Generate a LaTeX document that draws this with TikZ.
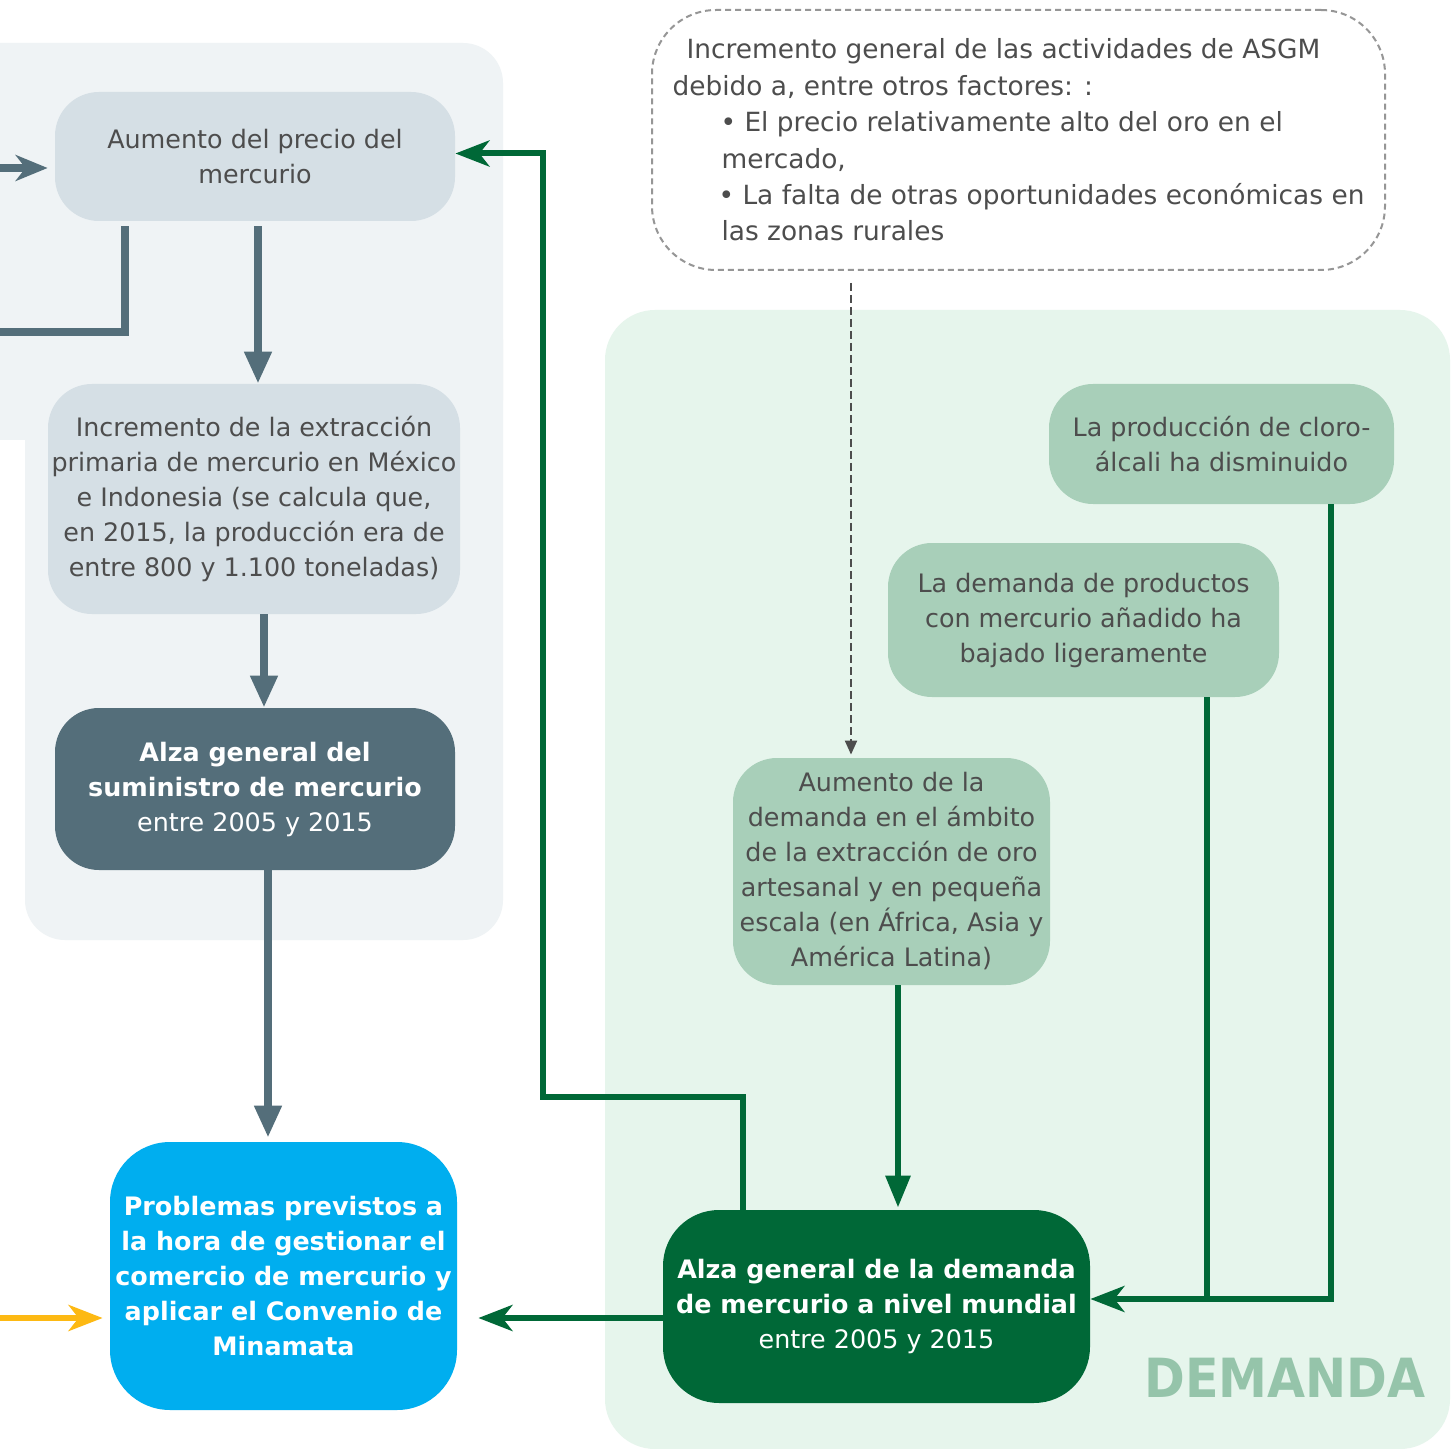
\documentclass[tikz,border=0pt]{standalone}
\usepackage{fontspec}
\setmainfont{DejaVu Sans}
\newfontfamily\demfont[FakeStretch=0.91]{DejaVu Sans}
\usetikzlibrary{arrows.meta}
\definecolor{supbg}{RGB}{239,243,245}
\definecolor{supfill}{RGB}{213,223,229}
\definecolor{slate}{RGB}{84,110,122}
\definecolor{probblue}{RGB}{0,174,239}
\definecolor{dembg}{RGB}{230,245,236}
\definecolor{demlight}{RGB}{168,207,185}
\definecolor{demlabel}{RGB}{149,196,170}
\definecolor{demdark}{RGB}{0,104,55}
\definecolor{yel}{RGB}{253,185,19}
\definecolor{txtgray}{RGB}{77,77,77}
\definecolor{dashgray}{RGB}{150,150,150}
\begin{document}
\begin{tikzpicture}[x=0.5pt,y=0.5pt,yscale=-1,xscale=1,
  boxbase/.style={rounded corners=22pt,inner sep=0pt,align=center,font=\fontsize{12.7}{17.5}\selectfont},
  supbox/.style={boxbase,fill=supfill,text=txtgray},
  supdark/.style={boxbase,fill=slate,text=white},
  probbox/.style={boxbase,rounded corners=30pt,fill=probblue,text=white},
  dembox/.style={boxbase,fill=demlight,text=txtgray},
  demdarkbox/.style={boxbase,rounded corners=28pt,fill=demdark,text=white},
  slateline/.style={draw=slate,line width=3.8pt},
  slatearr/.style={slateline,-{Triangle[length=16pt,width=13pt]}},
  slatestealth/.style={slateline,-{Stealth[length=16pt,width=13pt,inset=5pt]}},
  greenline/.style={draw=demdark,line width=3pt},
  greenarr/.style={greenline,-{Stealth[length=17pt,width=13pt,inset=5pt]}},
  greentri/.style={greenline,-{Triangle[length=16pt,width=12pt]}},
  yelarr/.style={draw=yel,line width=3pt,-{Stealth[length=17pt,width=13pt,inset=5pt]}},
  dasharr/.style={draw=txtgray,line width=1pt,dash pattern=on 4pt off 2pt,-{Triangle[length=7pt,width=6pt]}}]
\useasboundingbox (0,0) rectangle (1451,1449);
\fill [white] (0,0) rectangle (1451,1449);

%Shape: Panels
\fill [supbg,rounded corners=20pt] (-40,43) rectangle (503,440);
\fill [supbg,rounded corners=20pt] (25,300) rectangle (503,940);
\fill [dembg,rounded corners=25pt] (605,310) rectangle (1450,1449);

% Text Node
\draw (255,156.5) node [supbox,minimum width=200pt,minimum height=64.5pt] (precio) {Aumento del precio del\\mercurio};
% Text Node
\draw (254,499) node [supbox,minimum width=206pt,minimum height=115pt] (extrac) {Incremento de la extracción\\primaria de mercurio en México\\e Indonesia (se calcula que,\\en 2015, la producción era de\\entre 800 y 1.100 toneladas)};
% Text Node
\draw (255,789) node [supdark,minimum width=200pt,minimum height=81pt] (sumin) {\textbf{Alza general del}\\\textbf{suministro de mercurio}\\entre 2005 y 2015};
% Text Node
\draw (283.5,1276) node [probbox,minimum width=173.5pt,minimum height=134pt,font=\bfseries\fontsize{12.7}{17.5}\selectfont] (probl) {Problemas previstos a\\la hora de gestionar el\\comercio de mercurio y\\aplicar el Convenio de\\Minamata};
% Text Node
\draw (1018.5,140) node [draw=dashgray,line width=1pt,dash pattern=on 3pt off 2pt,rounded corners=32pt,inner sep=0pt,minimum width=366.5pt,minimum height=130pt,align=left,text=txtgray,font=\fontsize{13.2}{18.2}\selectfont] (asgm) {\hspace*{7pt}Incremento general de las actividades de ASGM\\debido a, entre otros factores: :\\\hspace*{24pt}\textbullet{} El precio relativamente alto del oro en el\\\hspace*{24.5pt}mercado,\\\hspace*{23pt}\textbullet{} La falta de otras oportunidades económicas en\\\hspace*{24.5pt}las zonas rurales};
% Text Node
\draw (1221.5,444) node [dembox,minimum width=172.5pt,minimum height=60pt] (cloro) {La producción de cloro-\\álcali ha disminuido};
% Text Node
\draw (1083.5,620) node [dembox,minimum width=195.5pt,minimum height=77pt] (produc) {La demanda de productos\\con mercurio añadido ha\\bajado ligeramente};
% Text Node
\draw (891.5,871.5) node [dembox,minimum width=158.5pt,minimum height=113.5pt] (ambito) {Aumento de la\\demanda en el ámbito\\de la extracción de oro\\artesanal y en pequeña\\escala (en África, Asia y\\América Latina)};
% Text Node
\draw (876.5,1306.5) node [demdarkbox,minimum width=213.5pt,minimum height=96.5pt] (demanda) {\textbf{Alza general de la demanda}\\\textbf{de mercurio a nivel mundial}\\entre 2005 y 2015};
% Text Node
\draw (1285,1378) node [text=demlabel,font=\demfont\bfseries\fontsize{27}{27}\selectfont] (demlabel) {DEMANDA};

%Coordinates
\coordinate (srcL) at (0,168);
\coordinate (outL) at (0,332);
\coordinate (srcY) at (0,1318);
\coordinate (prodout) at ([xshift=61.75pt]produc.south);
\coordinate (demin) at ([yshift=-3.75pt]demanda.east);

%Straight Lines
\draw [slatestealth,shorten >=3.5pt] (srcL) -- (srcL -| precio.west);
\draw [slateline,shorten <=2.5pt] ([xshift=-65pt]precio.south) |- (outL);
\draw [slatearr,shorten <=2.5pt] ([xshift=1.5pt]precio.south) -- ([xshift=1.5pt]precio.south |- extrac.north);
\draw [slatearr] ([xshift=5pt]extrac.south) -- ([xshift=5pt]extrac.south |- sumin.north);
\draw [slatearr,shorten >=2pt] ([xshift=6.5pt]sumin.south) -- ([xshift=6.5pt]sumin.south |- probl.north);

%Straight Lines
\draw [greenarr] ([xshift=-66.75pt]demanda.north) -- ++(0,-113) -- ++(-200,0) |- ([yshift=-1.5pt]precio.east);
\draw [greentri,shorten >=1pt] ([xshift=3.25pt]ambito.south) -- ([xshift=3.25pt]ambito.south |- demanda.north);
\draw [greenarr,shorten >=10.5pt] ([yshift=5.75pt]demanda.west) -- ([yshift=5.75pt]demanda.west -| probl.east);
\draw [greenarr] ([xshift=54.75pt]cloro.south) |- (demin);
\draw [greenline] (prodout) -- (prodout |- demin);

%Straight Lines
\draw [dasharr,shorten <=6pt,shorten >=1.5pt] ([xshift=-83.75pt]asgm.south) -- ([xshift=-83.75pt]asgm.south |- ambito.north);
\draw [yelarr,shorten >=3.5pt] (srcY) -- (srcY -| probl.west);

\end{tikzpicture}
\end{document}
